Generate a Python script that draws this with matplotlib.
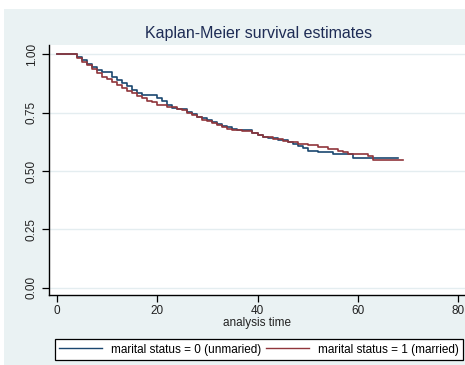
import matplotlib
matplotlib.use("Agg")
import matplotlib.pyplot as plt
from matplotlib.patches import Rectangle

plt.rcParams["font.family"] = ["Liberation Sans", "DejaVu Sans"]

# Kaplan-Meier step values, group 0 = unmarried, group 1 = married
t_unmarried = [0, 4, 5, 6, 7, 8, 9, 11, 12, 13, 14, 15, 16, 17, 20, 21, 22, 23,
               24, 26, 27, 28, 29, 30, 31, 32, 33, 34, 35, 36, 39, 40, 41, 42,
               44, 46, 47, 48, 49, 50, 52, 55, 59, 68]
s_unmarried = [1.000, 0.988, 0.974, 0.958, 0.944, 0.934, 0.926, 0.905, 0.892,
               0.878, 0.864, 0.848, 0.833, 0.826, 0.812, 0.800, 0.783, 0.772,
               0.764, 0.752, 0.745, 0.733, 0.726, 0.717, 0.710, 0.702, 0.695,
               0.688, 0.680, 0.676, 0.665, 0.655, 0.647, 0.642, 0.635, 0.624,
               0.616, 0.608, 0.598, 0.588, 0.580, 0.573, 0.557, 0.557]

t_married = [0, 4, 5, 6, 7, 8, 9, 10, 11, 12, 13, 14, 15, 16, 17, 18, 19, 20,
             22, 24, 25, 26, 27, 28, 29, 30, 31, 32, 33, 34, 35, 37, 39, 40,
             41, 43, 45, 46, 48, 50, 52, 54, 56, 57, 58, 62, 63, 69]
s_married = [1.000, 0.985, 0.968, 0.955, 0.938, 0.922, 0.905, 0.895, 0.880,
             0.868, 0.856, 0.844, 0.833, 0.822, 0.811, 0.800, 0.794, 0.785,
             0.776, 0.766, 0.760, 0.750, 0.740, 0.730, 0.720, 0.713, 0.706,
             0.699, 0.690, 0.682, 0.677, 0.672, 0.665, 0.655, 0.647, 0.637,
             0.630, 0.625, 0.617, 0.612, 0.603, 0.594, 0.587, 0.582, 0.575,
             0.565, 0.547, 0.547]

x_ticks = [0, 20, 40, 60, 80]
y_ticks = [0.00, 0.25, 0.50, 0.75, 1.00]
y_labels = ["0.00", "0.25", "0.50", "0.75", "1.00"]

navy = "#1a476f"
maroon = "#90353b"
panel = "#eaf2f3"

fig = plt.figure(figsize=(4.65, 3.65), dpi=100, facecolor="white")

# stata-style light panel behind everything
fig.patches.append(Rectangle((4 / 465, 0), 461 / 465, 356 / 365,
                             transform=fig.transFigure, facecolor=panel,
                             edgecolor="none", zorder=-10))

ax = fig.add_axes([49 / 465, 70 / 365, 416 / 465, 250 / 365])
ax.set_facecolor("white")

ax.step(t_unmarried, s_unmarried, where="post", color=navy, lw=1.2,
        label="marital status = 0 (unmaried)")
ax.step(t_married, s_married, where="post", color=maroon, lw=1.2,
        label="marital status = 1 (married)")

ax.set_xlim(-1.6, 81.4)
ax.set_ylim(-0.031, 1.040)

ax.set_xticks(x_ticks)
ax.set_yticks(y_ticks)
ax.set_yticklabels(y_labels, rotation=90, va="center")
ax.tick_params(axis="both", labelsize=8.5, length=5, width=0.9,
               colors="black", labelcolor="#222222")
ax.tick_params(axis="x", pad=2)
ax.tick_params(axis="y", pad=3)

ax.grid(axis="y", color="#e4edf0", lw=1.0)
ax.set_axisbelow(True)

for side in ["top", "right"]:
    ax.spines[side].set_visible(False)
for side in ["left", "bottom"]:
    ax.spines[side].set_linewidth(1.0)
    ax.spines[side].set_color("black")

ax.set_xlabel("analysis time", fontsize=8.5, color="#222222", labelpad=0.5)

fig.text(258.5 / 465, 1 - 33.7 / 365, "Kaplan-Meier survival estimates",
         ha="center", va="center", fontsize=11.5, color="#1e2c55")

leg = fig.legend(loc="center", bbox_to_anchor=(259 / 465, 1 - 349.5 / 365),
                 ncol=2, fontsize=8.5, frameon=True, fancybox=False,
                 edgecolor="black", facecolor="white", framealpha=1,
                 handlelength=3.6, handletextpad=0.8, columnspacing=0.4,
                 borderpad=0.35, borderaxespad=0)
leg.get_frame().set_linewidth(0.9)
for line in leg.get_lines():
    line.set_linewidth(1.0)

fig.savefig("out.png", dpi=100, facecolor="white")
